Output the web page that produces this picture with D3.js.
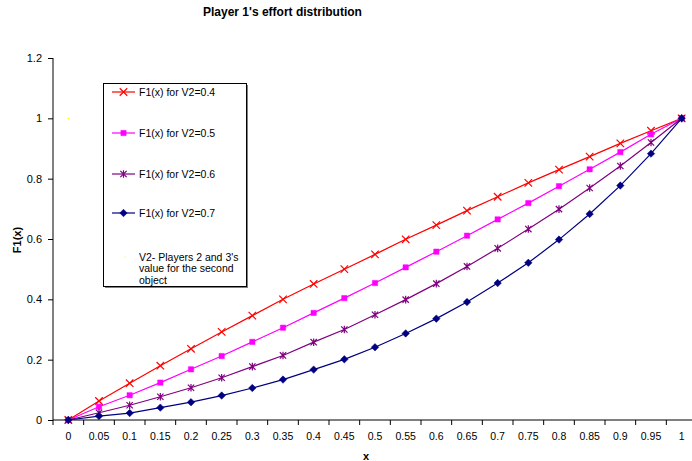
<!DOCTYPE html>
<html><head><meta charset="utf-8">
<script src="https://cdn.jsdelivr.net/npm/d3@7"></script>
<style>body{margin:0;background:#fff}svg{display:block;font-family:"Liberation Sans",Arial,sans-serif}</style>
</head><body><svg id="c" width="692" height="461"></svg>
<script>
const categories = ["0","0.05","0.1","0.15","0.2","0.25","0.3","0.35","0.4","0.45","0.5","0.55","0.6","0.65","0.7","0.75","0.8","0.85","0.9","0.95","1"];
const f04 = [0,0.063,0.122,0.180,0.236,0.292,0.346,0.400,0.451,0.500,0.549,0.599,0.646,0.694,0.740,0.786,0.830,0.873,0.917,0.959,1];
const f05 = [0,0.044,0.082,0.124,0.168,0.212,0.259,0.306,0.355,0.404,0.454,0.506,0.558,0.611,0.665,0.719,0.775,0.831,0.888,0.947,1];
const f06 = [0,0.024,0.049,0.077,0.107,0.140,0.177,0.214,0.258,0.300,0.349,0.399,0.452,0.509,0.569,0.633,0.699,0.769,0.842,0.920,1];
const f07 = [0,0.013,0.023,0.041,0.059,0.081,0.106,0.134,0.167,0.201,0.241,0.287,0.336,0.391,0.454,0.521,0.598,0.683,0.777,0.883,1];
const noteValues = [1];
const yTicks = [0,0.2,0.4,0.6,0.8,1,1.2];
const seriesNames = ["F1(x) for V2=0.4","F1(x) for V2=0.5","F1(x) for V2=0.6","F1(x) for V2=0.7"];
const noteLines = ["V2- Players 2 and 3's","value for the second","object"];
const titleText = "Player 1's effort distribution";

const svg = d3.select("#c");
const x = d3.scaleBand().domain(categories).range([53, 697]).padding(0);
const y = d3.scaleLinear().domain([0, 1.2]).range([420, 58]);
const cx = c => x(c) + x.bandwidth()/2;

const symStar = {draw(ctx, size){const r=Math.sqrt(size)/2; ctx.moveTo(-r,-r);ctx.lineTo(r,r);ctx.moveTo(r,-r);ctx.lineTo(-r,r);ctx.moveTo(0,-r*1.2);ctx.lineTo(0,r*1.2);}};
const symX = {draw(ctx, size){const r=Math.sqrt(size)/2; ctx.moveTo(-r,-r);ctx.lineTo(r,r);ctx.moveTo(r,-r);ctx.lineTo(-r,r);}};
const symDia = {draw(ctx, size){const r=Math.sqrt(size)/2; ctx.moveTo(0,-r);ctx.lineTo(r,0);ctx.lineTo(0,r);ctx.lineTo(-r,0);ctx.closePath();}};

const series = [
  {name: seriesNames[0], vals: f04, color: "#FF0000", sym: symX, size: 56, fill: false},
  {name: seriesNames[1], vals: f05, color: "#FF00FF", sym: d3.symbolSquare, size: 28, fill: true},
  {name: seriesNames[2], vals: f06, color: "#800080", sym: symStar, size: 40, fill: false},
  {name: seriesNames[3], vals: f07, color: "#000080", sym: symDia, size: 56, fill: true}
];

const yAxis = d3.axisLeft(y).tickValues(yTicks).tickSize(5).tickPadding(6).tickFormat(d => d3.format("~g")(d));
const gy = svg.append("g").attr("transform","translate(53,0)").call(yAxis);
gy.select(".domain").attr("stroke","#000").attr("d","M-0.0,58V420");
gy.selectAll(".tick line").attr("stroke","#000");
gy.selectAll("text").attr("font-size","11px").attr("fill","#000").attr("font-family","Liberation Sans, Arial, sans-serif");

const gx = svg.append("g").attr("transform","translate(0,420)");
gx.append("line").attr("x1",53).attr("x2",697).attr("y1",0).attr("y2",0).attr("stroke","#000");
gx.selectAll("line.tk").data(categories).enter().append("line").attr("class","tk")
  .attr("x1",d=>x(d)+x.bandwidth()).attr("x2",d=>x(d)+x.bandwidth()).attr("y1",0).attr("y2",5).attr("stroke","#000");
gx.append("line").attr("x1",53).attr("x2",53).attr("y1",0).attr("y2",5).attr("stroke","#000");
gx.selectAll("text").data(categories).enter().append("text")
  .attr("x",d=>cx(d)).attr("y",20).attr("text-anchor","middle").attr("font-size","10.5px").attr("fill","#000").text(d=>d);

const line = d3.line().x((d,i)=>cx(categories[i])).y(d=>y(d));
series.forEach(s=>{
  svg.append("path").datum(s.vals).attr("d",line).attr("fill","none").attr("stroke",s.color).attr("stroke-width",1.2);
  const sym = d3.symbol().type(s.sym).size(s.size);
  svg.append("g").selectAll("path").data(s.vals).enter().append("path")
    .attr("transform",(d,i)=>`translate(${cx(categories[i])},${y(d)})`)
    .attr("d",sym)
    .attr("fill",s.fill ? s.color : "none")
    .attr("stroke",s.color).attr("stroke-width",s.fill?0.5:1.2);
});
svg.append("g").selectAll("rect").data(noteValues).enter().append("rect")
  .attr("x",(d,i)=>cx(categories[i])-0.5).attr("y",d=>y(d)-0.5).attr("width",1.2).attr("height",1.2).attr("fill","#FFFF00");

const lg = svg.append("g");
lg.append("rect").attr("x",105).attr("y",85).attr("width",143).attr("height",203).attr("fill","#808080");
lg.append("rect").attr("x",103.5).attr("y",83.5).attr("width",143).attr("height",203).attr("fill","#fff").attr("stroke","#000").attr("stroke-width",1);
const ly = [92,133,174,213];
series.forEach((s,i)=>{
  lg.append("line").attr("x1",112).attr("x2",135).attr("y1",ly[i]).attr("y2",ly[i]).attr("stroke",s.color).attr("stroke-width",1.2);
  lg.append("path").attr("transform",`translate(123.5,${ly[i]})`).attr("d",d3.symbol().type(s.sym).size(s.size)())
    .attr("fill",s.fill ? s.color : "none").attr("stroke",s.color).attr("stroke-width",s.fill?0.5:1.2);
  lg.append("text").attr("x",139).attr("y",ly[i]+4).attr("font-size","10.5px").attr("fill","#000").text(s.name);
});
lg.append("rect").attr("x",124.5).attr("y",256.5).attr("width",1.2).attr("height",1.2).attr("fill","#FFFF00");
noteLines.forEach((t,i)=>{
  lg.append("text").attr("x",139).attr("y",261+i*11.3).attr("font-size","10.5px").attr("fill","#000").text(t);
});

svg.append("text").attr("x",203).attr("y",16).attr("font-size","12px").attr("font-weight","bold").text(titleText);
svg.append("text").attr("transform","translate(21,240) rotate(-90)").attr("text-anchor","middle")
  .attr("font-size","11px").attr("font-weight","bold").text("F1(x)");
svg.append("text").attr("x",366).attr("y",460).attr("text-anchor","middle").attr("font-size","11px").attr("font-weight","bold").text("x");
</script></body></html>
